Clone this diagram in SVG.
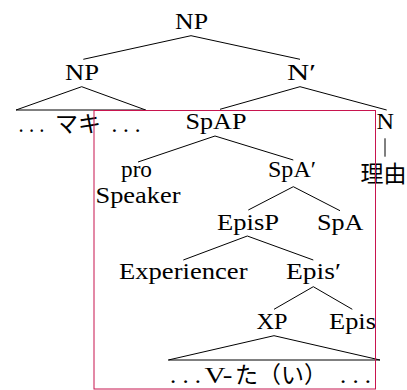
<svg xmlns="http://www.w3.org/2000/svg" width="407" height="390" viewBox="0 0 407 390">
<rect width="407" height="390" fill="#fff"/>
<g id="connectors" stroke="#000" stroke-width="1" fill="none">
<line x1="191" y1="35.7" x2="83.3" y2="59.3"/>
<line x1="191" y1="35.7" x2="300" y2="59.3"/>
<polygon points="81.7,86.7 16,110 145.7,110"/>
<line x1="300" y1="86.7" x2="220" y2="109.3"/>
<line x1="300" y1="86.7" x2="386.7" y2="110"/>
<line x1="215" y1="136" x2="138" y2="162"/>
<line x1="215" y1="136" x2="293.3" y2="160"/>
<line x1="385" y1="138.3" x2="385" y2="156.7"/>
<line x1="293.3" y1="186.7" x2="248.3" y2="210"/>
<line x1="293.3" y1="186.7" x2="340" y2="210.7"/>
<line x1="247.3" y1="236" x2="183.3" y2="260"/>
<line x1="247.3" y1="236" x2="313.3" y2="260"/>
<line x1="313.3" y1="286.7" x2="274" y2="309.3"/>
<line x1="313.3" y1="286.7" x2="352.3" y2="309.3"/>
<polygon points="274,335.7 168.3,360 380,360"/>
</g>
<g id="np-root"><text x="175" y="28.5" style="font-family:'Liberation Serif',serif !important;font-size:24px" textLength="33" lengthAdjust="spacingAndGlyphs">NP</text></g>
<g id="np-maki"><text x="65" y="79.5" style="font-family:'Liberation Serif',serif !important;font-size:24px" textLength="34" lengthAdjust="spacingAndGlyphs">NP</text></g>
<g id="nbar"><text x="287" y="79.5" style="font-family:'Liberation Serif',serif !important;font-size:24px" textLength="29" lengthAdjust="spacingAndGlyphs">N′</text></g>
<g id="maki">
<text x="18.5" y="132" style="font-family:'Liberation Serif',serif !important;font-size:24px" textLength="26" lengthAdjust="spacingAndGlyphs">. . .</text>
<text x="55" y="132" style="font-family:'Noto Sans CJK JP',sans-serif;font-size:23px">マキ</text>
<text x="111.5" y="132" style="font-family:'Liberation Serif',serif !important;font-size:24px" textLength="29" lengthAdjust="spacingAndGlyphs">. . .</text>
</g>
<g id="spap"><text x="185.5" y="128.5" style="font-family:'Liberation Serif',serif !important;font-size:24px" textLength="61" lengthAdjust="spacingAndGlyphs">SpAP</text></g>
<g id="n"><text x="376.5" y="128.5" style="font-family:'Liberation Serif',serif !important;font-size:24px" textLength="17.5" lengthAdjust="spacingAndGlyphs">N</text></g>
<g id="riyuu"><text x="360.5" y="181.5" style="font-family:'Noto Sans CJK JP',sans-serif;font-size:23px">理由</text></g>
<g id="pro-speaker">
<text x="121" y="177" style="font-family:'Liberation Serif',serif !important;font-size:24px" textLength="31" lengthAdjust="spacingAndGlyphs">pro</text>
<text x="95.5" y="202.5" style="font-family:'Liberation Serif',serif !important;font-size:24px" textLength="85" lengthAdjust="spacingAndGlyphs">Speaker</text>
</g>
<g id="spabar"><text x="268" y="177" style="font-family:'Liberation Serif',serif !important;font-size:24px" textLength="48" lengthAdjust="spacingAndGlyphs">SpA′</text></g>
<g id="episp"><text x="217" y="229.5" style="font-family:'Liberation Serif',serif !important;font-size:24px" textLength="62" lengthAdjust="spacingAndGlyphs">EpisP</text></g>
<g id="spa"><text x="317" y="229.5" style="font-family:'Liberation Serif',serif !important;font-size:24px" textLength="46.5" lengthAdjust="spacingAndGlyphs">SpA</text></g>
<g id="experiencer"><text x="119" y="278.5" style="font-family:'Liberation Serif',serif !important;font-size:24px" textLength="128.5" lengthAdjust="spacingAndGlyphs">Experiencer</text></g>
<g id="episbar"><text x="286" y="278.5" style="font-family:'Liberation Serif',serif !important;font-size:24px" textLength="55" lengthAdjust="spacingAndGlyphs">Epis′</text></g>
<g id="xp"><text x="256.5" y="328.5" style="font-family:'Liberation Serif',serif !important;font-size:24px" textLength="31" lengthAdjust="spacingAndGlyphs">XP</text></g>
<g id="epis"><text x="329" y="328.5" style="font-family:'Liberation Serif',serif !important;font-size:24px" textLength="47" lengthAdjust="spacingAndGlyphs">Epis</text></g>
<g id="vtai">
<text x="170" y="383" style="font-family:'Liberation Serif',serif !important;font-size:24px" textLength="31" lengthAdjust="spacingAndGlyphs">. . .</text>
<text x="204.5" y="383" style="font-family:'Liberation Serif',serif !important;font-size:24px" textLength="28" lengthAdjust="spacingAndGlyphs">V-</text>
<text x="235" y="383" style="font-family:'Noto Sans CJK JP',sans-serif;font-size:23px">た（い）</text>
<text x="340" y="383" style="font-family:'Liberation Serif',serif !important;font-size:24px" textLength="31" lengthAdjust="spacingAndGlyphs">. . .</text>
</g>
<g id="frame"><rect x="94" y="110.5" width="281.5" height="278.5" fill="none" stroke="#c8144e" stroke-width="1"/></g>
</svg>
